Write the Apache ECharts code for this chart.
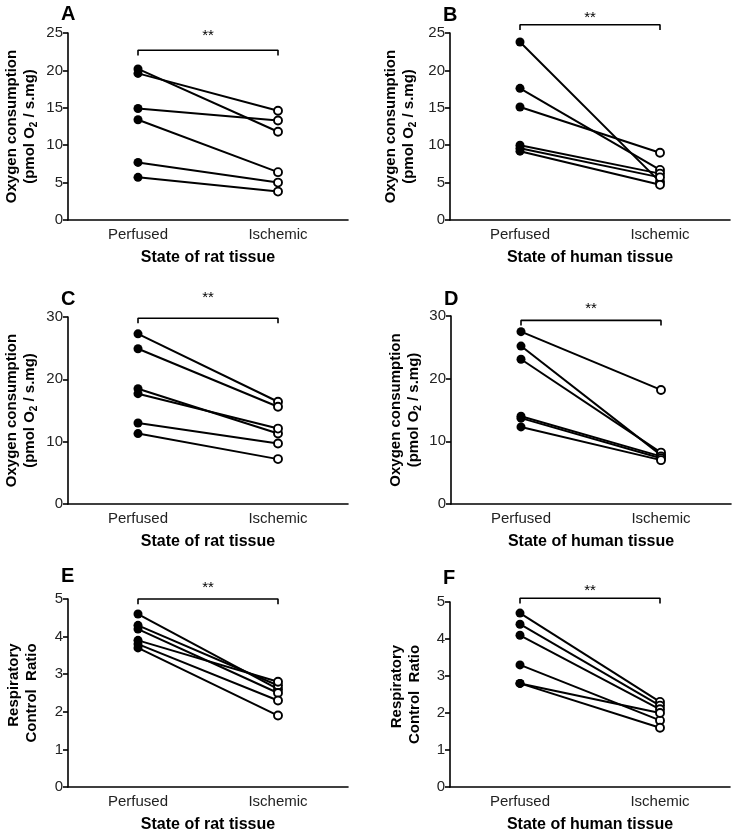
<!DOCTYPE html>
<html>
<head>
<meta charset="utf-8">
<script src="https://cdn.jsdelivr.net/npm/echarts@6/dist/echarts.min.js"></script>
<style>html,body{margin:0;padding:0;background:#fff;}#c{width:737px;height:834px;}</style>
</head>
<body>
<div id="c"></div>
<script>
const categories = ['Perfused', 'Ischemic'];
const panelLetters = ['A', 'B', 'C', 'D', 'E', 'F'];
const xNames = ['State of rat tissue', 'State of human tissue', 'State of rat tissue', 'State of human tissue', 'State of rat tissue', 'State of human tissue'];
const yMax = [25, 25, 30, 30, 5, 5];
const yInterval = [5, 5, 10, 10, 1, 1];

const perfusedA = [20.2, 19.6, 14.9, 13.4, 7.7, 5.7];
const ischemicA = [11.8, 14.6, 13.3, 6.4, 5.0, 3.8];
const perfusedB = [23.8, 17.6, 15.1, 10.0, 9.6, 9.2];
const ischemicB = [5.1, 6.7, 9.0, 6.2, 5.7, 4.7];
const perfusedC = [27.3, 24.9, 18.5, 17.7, 13.0, 11.3];
const ischemicC = [16.4, 15.6, 11.3, 12.1, 9.7, 7.2];
const perfusedD = [27.5, 25.2, 23.1, 14.0, 13.7, 12.3];
const ischemicD = [18.2, 7.8, 8.2, 7.6, 7.3, 7.0];
const perfusedE = [4.6, 4.3, 4.2, 3.9, 3.8, 3.7];
const ischemicE = [2.6, 2.7, 2.5, 2.8, 2.3, 1.9];
const perfusedF = [4.7, 4.4, 4.1, 3.3, 2.8, 2.8];
const ischemicF = [2.3, 2.2, 2.1, 1.8, 2.0, 1.6];

const significance = ['**', '**', '**', '**', '**', '**'];
const bracketLevel = [22.7, 26.1, 29.8, 29.3, 5.0, 5.1];
const bracketDrop = [0.7, 0.7, 0.8, 0.8, 0.14, 0.14];

const perfusedAll = [perfusedA, perfusedB, perfusedC, perfusedD, perfusedE, perfusedF];
const ischemicAll = [ischemicA, ischemicB, ischemicC, ischemicD, ischemicE, ischemicF];

const grids = [
  {left: 68, top: 33, width: 280, height: 187},
  {left: 450, top: 33, width: 280, height: 187},
  {left: 68, top: 317, width: 280, height: 187},
  {left: 451, top: 316, width: 280, height: 188},
  {left: 68, top: 599, width: 280, height: 189},
  {left: 450, top: 602, width: 280, height: 186}
];
const nameGaps = [29, 32, 29, 28, 27, 26];
const FONT = 'Liberation Sans, Arial, sans-serif';

const oxyName = '{b|Oxygen consumption}\n{b|(pmol O}{s|2}{b| / s.mg)}';
const rcrName = '{r|Respiratory}\n{r|Control  Ratio}';

const xAxes = [], yAxes = [], series = [], graphics = [];
for (let k = 0; k < 6; k++) {
  xAxes.push({
    type: 'category', gridIndex: k, data: categories, boundaryGap: true,
    axisLine: {lineStyle: {color: '#000', width: 1.6}},
    axisTick: {alignWithLabel: true, length: 5, lineStyle: {color: '#000', width: 1.6}},
    axisLabel: {color: '#222', fontSize: 15, fontFamily: FONT, margin: 7},
    name: xNames[k], nameLocation: 'middle', nameGap: 30,
    nameTextStyle: {color: '#000', fontSize: 16, fontWeight: 'bold', fontFamily: FONT}
  });
  yAxes.push({
    type: 'value', gridIndex: k, min: 0, max: yMax[k], interval: yInterval[k],
    splitLine: {show: false},
    axisLine: {show: true, lineStyle: {color: '#000', width: 1.6}},
    axisTick: {show: true, length: 5, lineStyle: {color: '#000', width: 1.6}},
    axisLabel: {color: '#222', fontSize: 15, fontFamily: FONT, margin: 5},
    name: k < 4 ? oxyName : rcrName, nameLocation: 'middle', nameGap: nameGaps[k],
    nameTextStyle: {
      color: '#000', fontFamily: FONT, lineHeight: 18,
      rich: {
        b: {fontSize: 15, fontWeight: 'bold', fontFamily: FONT, color: '#000', lineHeight: 18},
        r: {fontSize: 15, fontWeight: 'bold', fontFamily: FONT, color: '#000', lineHeight: 18, align: 'right'},
        s: {fontSize: 10, fontWeight: 'bold', fontFamily: FONT, color: '#000', verticalAlign: 'bottom', lineHeight: 12, padding: [6, 0, 0, 0]}
      }
    }
  });
  const P = perfusedAll[k], I = ischemicAll[k];
  for (let i = 0; i < P.length; i++) {
    series.push({
      type: 'line', xAxisIndex: k, yAxisIndex: k, silent: true,
      lineStyle: {color: '#000', width: 2},
      z: 3,
      data: [
        {value: P[i], symbol: 'circle', symbolSize: 9, itemStyle: {color: '#000', borderColor: '#000', borderWidth: 0}},
        {value: I[i], symbol: 'circle', symbolSize: 8, itemStyle: {color: '#fff', borderColor: '#000', borderWidth: 1.9}}
      ]
    });
  }
  series.push({
    type: 'line', xAxisIndex: k, yAxisIndex: k, silent: true, clip: false,
    symbol: 'none', lineStyle: {color: '#000', width: 1.6},
    data: [[0, bracketLevel[k] - bracketDrop[k]], [0, bracketLevel[k]], [1, bracketLevel[k]], [1, bracketLevel[k] - bracketDrop[k]]]
  });
  const g = grids[k];
  graphics.push({
    type: 'text', left: g.left - 7, top: [4, 5, 289, 289, 566, 568][k],
    style: {text: panelLetters[k], font: 'bold 20px ' + FONT, fill: '#000'}
  });
}

const starY = [36, 18, 298, 309, 588, 591];

const option = {
  animation: false,
  backgroundColor: '#fff',
  grid: grids,
  xAxis: xAxes,
  yAxis: yAxes,
  series: series,
  graphic: graphics
};
const chart = echarts.init(document.getElementById('c'), null, {renderer: 'canvas'});
chart.setOption(option);

const extra = [];
for (let k = 0; k < 6; k++) {
  const p0 = chart.convertToPixel({xAxisIndex: k, yAxisIndex: k}, [0, bracketLevel[k]]);
  const p1 = chart.convertToPixel({xAxisIndex: k, yAxisIndex: k}, [1, bracketLevel[k]]);
  extra.push({
    type: 'text', x: (p0[0] + p1[0]) / 2, y: starY[k],
    style: {text: significance[k], font: '15px ' + FONT, fill: '#000', textAlign: 'center', textVerticalAlign: 'middle'}
  });
}
chart.setOption({graphic: graphics.concat(extra)});
</script>
</body>
</html>
